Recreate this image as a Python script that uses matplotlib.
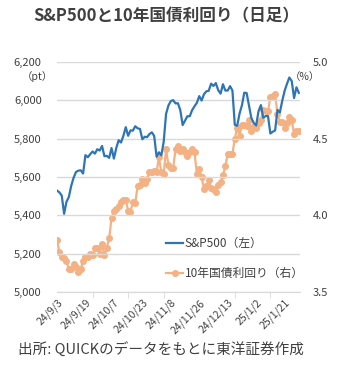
import numpy as np
import matplotlib
matplotlib.use("Agg")
import matplotlib.pyplot as plt
from matplotlib.ticker import FuncFormatter, MultipleLocator

plt.rcParams['font.family'] = ['Noto Sans CJK JP', 'DejaVu Sans']

#
# data (daily, 24/9/3 - 25/1/29)
#

spx = [5529, 5520, 5503, 5408, 5471, 5496, 5554, 5596, 5626, 5633,
       5635, 5618, 5714, 5703, 5719, 5733, 5722, 5745, 5738, 5762,
       5709, 5710, 5700, 5751, 5696, 5751, 5792, 5780, 5815, 5860,
       5815, 5843, 5842, 5865, 5854, 5851, 5797, 5810, 5808, 5824,
       5833, 5814, 5706, 5729, 5713, 5783, 5929, 5973, 5996, 6001,
       5984, 5985, 5949, 5871, 5894, 5917, 5917, 5949, 5969, 5987,
       6022, 5999, 6032, 6047, 6050, 6087, 6075, 6090, 6053, 6035,
       6084, 6051, 6051, 6074, 6051, 5872, 5867, 5931, 5974, 6040,
       6038, 5971, 5907, 5882, 5869, 5943, 5975, 5909, 5918, 5918,
       5827, 5836, 5843, 5950, 5937, 5997, 6049, 6086, 6119, 6101,
       6012, 6068, 6039]

jgb10 = [3.84, 3.76, 3.73, 3.72, 3.70, 3.65, 3.65, 3.68, 3.66, 3.63,
         3.65, 3.70, 3.73, 3.73, 3.75, 3.74, 3.79, 3.79, 3.75, 3.81,
         3.74, 3.79, 3.85, 3.98, 4.03, 4.04, 4.06, 4.09, 4.10, 4.10,
         4.03, 4.02, 4.09, 4.08, 4.19, 4.20, 4.24, 4.21, 4.24, 4.28,
         4.28, 4.29, 4.28, 4.38, 4.28, 4.27, 4.43, 4.33, 4.31, 4.31,
         4.43, 4.45, 4.42, 4.43, 4.41, 4.39, 4.41, 4.43, 4.41, 4.27,
         4.30, 4.25, 4.17, 4.19, 4.23, 4.18, 4.17, 4.15, 4.20, 4.22,
         4.26, 4.32, 4.40, 4.40, 4.40, 4.50, 4.57, 4.52, 4.59, 4.59,
         4.58, 4.62, 4.55, 4.58, 4.57, 4.60, 4.62, 4.69, 4.68, 4.68,
         4.77, 4.78, 4.79, 4.66, 4.61, 4.61, 4.57, 4.60, 4.64, 4.62,
         4.53, 4.55, 4.55]

date_labels = ["24/9/3", "24/9/19", "24/10/7", "24/10/23", "24/11/8",
               "24/11/26", "24/12/13", "25/1/2", "25/1/21"]

x = np.arange(len(spx))

BLUE = "#2e75b6"
ORANGE = "#f4b183"
TXT = "#404040"

fig = plt.figure(figsize=(3.4, 3.72), dpi=100)
ax1 = fig.add_axes([57/340, 1 - 292/372, 243/340, 230/372])
ax2 = ax1.twinx()

# blue on top of orange
ax1.set_zorder(ax2.get_zorder() + 1)
ax1.patch.set_visible(False)

l2, = ax2.plot(x, jgb10, '-o', color=ORANGE, lw=1.6, ms=4, label="10年国債利回り（右）")
l1, = ax1.plot(x, spx, '-', color=BLUE, lw=1.6, label="S&P500（左）")

ax1.set_xlim(0, 102.5)
ax1.set_ylim(5000, 6200)
ax2.set_ylim(3.5, 5.0)
ax1.yaxis.set_major_locator(MultipleLocator(200))
ax1.yaxis.set_major_formatter(FuncFormatter(lambda v, p: f"{v:,.0f}"))
ax2.yaxis.set_major_locator(MultipleLocator(0.5))
ax2.yaxis.set_major_formatter(FuncFormatter(lambda v, p: f"{v:.1f}"))

ax1.grid(axis='y', color="#d9d9d9", lw=1)
ax1.set_axisbelow(True)
for a in (ax1, ax2):
    for s in a.spines.values():
        s.set_visible(False)
ax1.spines['bottom'].set_visible(True)
ax1.spines['bottom'].set_color("#d9d9d9")

ax1.tick_params(axis='y', length=0, pad=11, labelsize=8, labelcolor=TXT)
ax2.tick_params(axis='y', length=0, pad=9, labelsize=8, labelcolor=TXT)

# labels every 12 days, tick marks every 15
ax1.set_xticks(np.arange(len(date_labels)) * 12)
ax1.set_xticklabels(date_labels, rotation=45, ha='right', rotation_mode='anchor')
ax1.tick_params(axis='x', length=0, pad=4, labelsize=7.5, labelcolor=TXT)
ax1.set_xticks(np.arange(0, 103, 15), minor=True)
ax1.tick_params(axis='x', which='minor', length=4, color="#d9d9d9", direction='out')

ax1.legend(handles=[l1, l2], loc='center left', bbox_to_anchor=(0.45, 0.146),
           frameon=False, fontsize=8.5, handlelength=1.4, handletextpad=0.15,
           labelspacing=1.4, borderpad=0, borderaxespad=0, labelcolor=TXT)

fig.text(0.49, 1 - 16/372, "S&P500と10年国債利回り（日足）", ha='center', va='center',
         fontsize=12, fontweight='bold', color=TXT)
fig.text(37/340, 1 - 77/372, "（pt）", ha='center', va='center', fontsize=7.5, color=TXT)
fig.text(305/340, 1 - 77/372, "（%）", ha='center', va='center', fontsize=7.5, color=TXT)
fig.text(18/340, 1 - 349/372, "出所: QUICKのデータをもとに東洋証券作成", ha='left', va='center',
         fontsize=10.5, color=TXT)

fig.savefig("out.png", dpi=100)
